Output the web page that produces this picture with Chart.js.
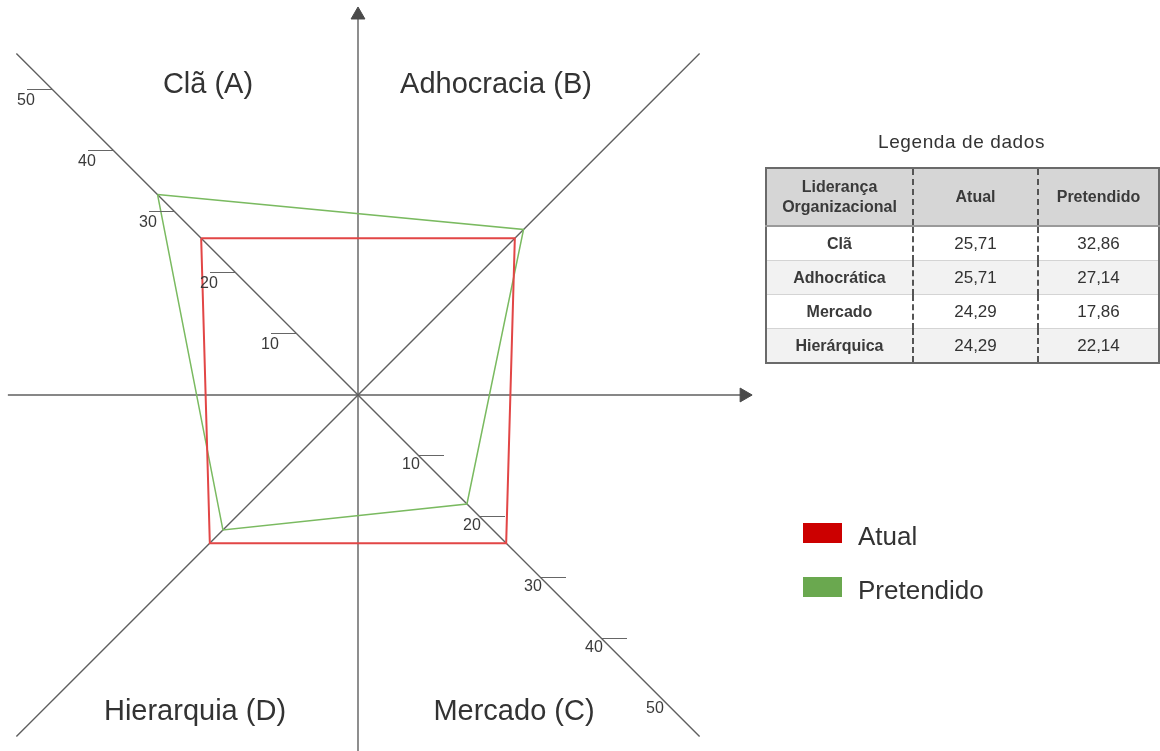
<!DOCTYPE html>
<html lang="pt">
<head>
<meta charset="utf-8">
<title>Liderança Organizacional</title>
<script src="https://cdn.jsdelivr.net/npm/chart.js@4/dist/chart.umd.min.js"></script>
<style>
  html, body { margin: 0; padding: 0; background: #fff; }
  #wrap { position: relative; width: 1160px; height: 751px; overflow: hidden;
          font-family: "Liberation Sans", Arial, sans-serif; color: #333; }
  #plot { position: absolute; left: 0; top: 0; width: 1160px; height: 751px; }
  #legendTitle { position: absolute; left: 765px; width: 393px; top: 131px;
                 text-align: center; font-size: 19px; letter-spacing: 0.6px; color: #333; }
  #dataTable { position: absolute; left: 765px; top: 167px; width: 393px;
               border-collapse: collapse; table-layout: fixed;
               font-size: 17px; color: #333; border: 2px solid #6a6a6a; }
  #dataTable td, #dataTable th { text-align: center; padding: 0; line-height: 20px; }
  #dataTable th { background: #d6d6d6; height: 56px; font-weight: bold; font-size: 16px;
                  color: #3a3a3a; border-bottom: 2px solid #9a9a9a; }
  #dataTable td { height: 33px; border-top: 1px solid #d4d4d4; }
  #dataTable tr:nth-child(odd) td { background: #f2f2f2; }
  #dataTable .sep { border-left: 2px dashed #555; }
  #dataTable td.name { font-weight: bold; font-size: 16px; color: #3a3a3a; }
  .lg-item { position: absolute; left: 803px; height: 26px; }
  .lg-swatch { position: absolute; left: 0; top: 0; width: 39px; height: 20px; }
  .lg-label { position: absolute; left: 55px; top: 0; font-size: 26px; line-height: 26px;
              white-space: nowrap; color: #333; }
</style>
</head>
<body>
<div id="wrap">
  <canvas id="plot" width="1160" height="751"></canvas>
  <div id="legendTitle">Legenda de dados</div>
  <table id="dataTable"></table>
  <div id="seriesLegend"></div>
</div>
<script>
// Competing-values quadrants (one per diagonal arm)
const quadrants = ['Clã', 'Adhocrática', 'Mercado', 'Hierárquica'];
const quadrantTitles = ['Clã (A)', 'Adhocracia (B)', 'Mercado (C)', 'Hierarquia (D)'];
// Scores per quadrant, same order as `quadrants`
const atual = [25.71, 25.71, 24.29, 24.29];
const pretendido = [32.86, 27.14, 17.86, 22.14];
const seriesNames = ['Atual', 'Pretendido'];
const tableHeading = ['Liderança', 'Organizacional'];
// Graduation of the diagonal arms
const diagonalTicks = [10, 20, 30, 40, 50];

// Direction of each quadrant's arm: NW, NE, SE, SW
const armDir = [[-1, 1], [1, 1], [1, -1], [-1, -1]];

const lineColors = ['rgb(226,70,70)', 'rgb(122,186,96)'];
const swatchColors = ['#cc0000', '#6aa84f'];
const axisColor = '#5f5f5f';

// pixels per unit, origin of the diagram in page pixels
const UNIT = 6.1, ORIGIN_X = 358, ORIGIN_Y = 395, W = 1160, H = 751;
const REACH = 56;

function arm(values) {
  const pts = values.map((v, i) => ({ x: armDir[i][0] * v, y: armDir[i][1] * v }));
  pts.push(pts[0]);
  return pts;
}

// ---------- table ----------
const fmt = v => v.toFixed(2).replace('.', ',');
const table = document.getElementById('dataTable');
let html = '<colgroup><col style="width:147px"><col style="width:125px"><col style="width:121px"></colgroup>';
html += '<tr><th>' + tableHeading.join('<br>') + '</th><th class="sep">' + seriesNames[0] +
        '</th><th class="sep">' + seriesNames[1] + '</th></tr>';
quadrants.forEach((q, i) => {
  html += '<tr><td class="name">' + q + '</td><td class="sep">' + fmt(atual[i]) +
          '</td><td class="sep">' + fmt(pretendido[i]) + '</td></tr>';
});
table.innerHTML = html;

// ---------- series legend ----------
const legendBox = document.getElementById('seriesLegend');
seriesNames.forEach((name, i) => {
  const item = document.createElement('div');
  item.className = 'lg-item';
  item.style.top = (523 + i * 54) + 'px';
  item.innerHTML = '<div class="lg-swatch" style="background:' + swatchColors[i] + '"></div>' +
                   '<div class="lg-label">' + name + '</div>';
  legendBox.appendChild(item);
});

// ---------- graduations and quadrant titles ----------
const diagramText = {
  id: 'diagramText',
  afterDatasetsDraw(chart) {
    const { ctx, scales: { x, y } } = chart;
    ctx.save();
    ctx.strokeStyle = '#666';
    ctx.lineWidth = 1;
    ctx.fillStyle = '#3a3a3a';
    ctx.font = '16px "Liberation Sans", Arial, sans-serif';
    ctx.textAlign = 'center';
    ctx.textBaseline = 'middle';
    diagonalTicks.forEach((v, k) => {
      // NW arm: mark to the left of the arm
      let px = x.getPixelForValue(-v), py = Math.round(y.getPixelForValue(v)) - 0.5;
      ctx.beginPath(); ctx.moveTo(px - 26, py); ctx.lineTo(px, py); ctx.stroke();
      ctx.fillText(String(v), px - 27, py + 11);
      // SE arm: mark to the right of the arm
      px = x.getPixelForValue(v); py = Math.round(y.getPixelForValue(-v)) - 0.5;
      if (k < diagonalTicks.length - 1) {
        ctx.beginPath(); ctx.moveTo(px, py); ctx.lineTo(px + 25, py); ctx.stroke();
      }
      ctx.fillText(String(v), px - 8, py + 9);
    });
    ctx.font = '29px "Liberation Sans", Arial, sans-serif';
    ctx.fillStyle = '#333';
    ctx.textBaseline = 'alphabetic';
    const spots = [[208, 93], [496, 93], [514, 720], [195, 720]];
    quadrantTitles.forEach((t, i) => ctx.fillText(t, spots[i][0], spots[i][1]));
    ctx.restore();
  }
};

const axisLine = (pts) => ({
  data: pts, showLine: true, borderColor: axisColor, borderWidth: 1.4,
  pointRadius: 0, order: 5
});

new Chart(document.getElementById('plot'), {
  type: 'scatter',
  data: {
    datasets: [
      {
        label: seriesNames[0], data: arm(atual), showLine: true, tension: 0,
        borderColor: lineColors[0], borderWidth: 2, pointRadius: 0, order: 0
      },
      {
        label: seriesNames[1], data: arm(pretendido), showLine: true, tension: 0,
        borderColor: lineColors[1], borderWidth: 1.5, pointRadius: 0, order: 1
      },
      axisLine([{ x: -REACH, y: REACH }, { x: REACH, y: -REACH }]),
      axisLine([{ x: REACH, y: REACH }, { x: -REACH, y: -REACH }]),
      axisLine([{ x: -57.4, y: 0 }, { x: 63.2, y: 0 }]),
      axisLine([{ x: 0, y: -60 }, { x: 0, y: 62.2 }]),
      {
        data: [{ x: 63.3, y: 0 }, { x: 0, y: 62.3 }],
        pointStyle: 'triangle', pointRadius: 8, rotation: [90, 0],
        backgroundColor: '#4a4a4a', borderColor: '#4a4a4a', borderWidth: 1, order: 4
      }
    ]
  },
  options: {
    responsive: false,
    animation: false,
    events: [],
    layout: { padding: 0, autoPadding: false },
    scales: {
      x: { type: 'linear', display: false, min: -ORIGIN_X / UNIT, max: (W - ORIGIN_X) / UNIT },
      y: { type: 'linear', display: false, min: -(H - ORIGIN_Y) / UNIT, max: ORIGIN_Y / UNIT }
    },
    plugins: { legend: { display: false }, tooltip: { enabled: false } }
  },
  plugins: [diagramText]
});
</script>
</body>
</html>
